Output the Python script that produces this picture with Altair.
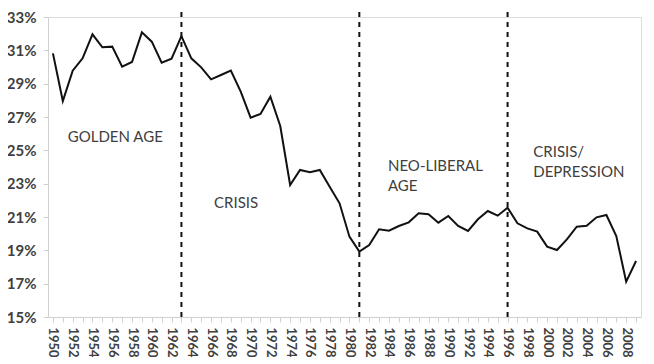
import altair as alt
import pandas as pd

years = list(range(1950, 2010))
share = [30.82, 27.96, 29.78, 30.52, 31.96, 31.18, 31.22, 30.02, 30.30, 32.08,
         31.52, 30.26, 30.50, 31.85, 30.52, 29.98, 29.26, 29.52, 29.78, 28.52,
         26.96, 27.18, 28.22, 26.46, 22.92, 23.82, 23.68, 23.82, 22.82, 21.82,
         19.82, 18.92, 19.32, 20.26, 20.18, 20.46, 20.68, 21.22, 21.16, 20.66,
         21.06, 20.46, 20.16, 20.86, 21.36, 21.08, 21.56, 20.62, 20.32, 20.12,
         19.22, 19.02, 19.66, 20.42, 20.48, 20.98, 21.12, 19.86, 17.12, 18.36]

break_years = [1963, 1981, 1996]

label_texts = ["GOLDEN AGE", "CRISIS", "NEO-LIBERAL", "AGE", "CRISIS/", "DEPRESSION"]
label_years = [1951.5, 1966.3, 1983.9, 1983.9, 1998.6, 1998.6]
label_values = [25.8, 21.84, 24.06, 22.86, 24.9, 23.7]

y_ticks = [15, 17, 19, 21, 23, 25, 27, 29, 31, 33]

df = pd.DataFrame({"year": years, "share": [v / 100 for v in share]})
breaks = pd.DataFrame({"year": break_years, "lo": [0.15] * 3, "hi": [0.336] * 3})
labels = pd.DataFrame({"text": label_texts, "year": label_years,
                       "value": [v / 100 for v in label_values]})

FONT = "Lato"
GRAY = "#404040"

x_scale = alt.Scale(domain=[1949.5, 2009.5], nice=False, zero=False)
y_scale = alt.Scale(domain=[0.15, 0.33], nice=False, zero=False)


def x_enc(field):
    return alt.X(field, scale=x_scale, title=None, axis=alt.Axis(
        values=years, labelExpr="datum.value % 2 == 0 ? datum.value : ''",
        labelAngle=90, labelAlign="left", labelBaseline="middle",
        labelFontSize=13, labelPadding=5, labelOverlap=False, title=None))


def y_enc(field):
    return alt.Y(field, scale=y_scale, title=None, axis=alt.Axis(
        values=[v / 100 for v in y_ticks], format=".0%",
        labelFontSize=15, labelPadding=7, labelOverlap=False, title=None))


line = alt.Chart(df).mark_line(color="#111111", strokeWidth=2).encode(
    x=x_enc("year:Q"), y=y_enc("share:Q"))

rules = alt.Chart(breaks).mark_rule(color="#111111", strokeWidth=2,
                                    strokeDash=[5, 5]).encode(
    x=x_enc("year:Q"), y=y_enc("lo:Q"), y2="hi:Q")

text = alt.Chart(labels).mark_text(align="left", baseline="middle", font=FONT,
                                   fontSize=15, color=GRAY).encode(
    x=x_enc("year:Q"), y=y_enc("value:Q"), text="text:N")

chart = alt.layer(line, rules, text).properties(
    width=593, height=300,
    autosize=alt.AutoSizeParams(type="none"),
    padding={"left": 40, "top": 9, "right": 5, "bottom": 40},
).configure_view(stroke=None).configure(background="white").configure_axis(
    labelOverlap=False, labelFont=FONT, labelFontWeight="bold", labelColor=GRAY,
    domainColor="#d0d0d0", tickColor="#d0d0d0", tickSize=5, grid=False,
    labelFlush=False, labelBound=False,
)

chart.save("out.html", embed_options={"renderer": "svg", "actions": False})
